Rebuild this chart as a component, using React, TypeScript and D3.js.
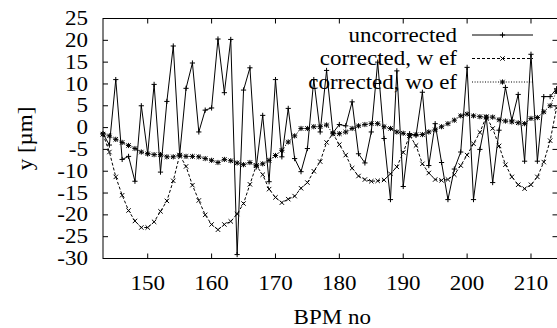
import React from 'react';
import * as d3 from 'd3';

// BPM numbers run 143..214, one value per BPM
const bpmStart = 143;

const uncorrected = [
  -1.4, -4.0, 11.0, -7.3, -6.6, -12.3, 5.0, -6.0, 9.9, -10.2,
  6.0, 18.7, -6.3, 9.0, 14.8, -1.0, 4.0, 4.5, 20.3, 8.0,
  20.2, -29.1, 8.6, 13.7, -9.0, 2.8, -12.4, 11.0, -6.7, 4.4,
  -7.1, -10.1, -4.8, 11.0, -1.0, 13.1, -1.2, 0.7, 0.4, 5.9,
  -6.0, -8.1, -1.0, 15.0, -2.5, -16.5, 13.0, -13.5, -1.4, -1.8,
  8.1, -8.7, 0.9, -8.0, -16.5, -9.5, -5.6, 13.8, -16.5, -5.0,
  2.4, -12.6, -0.6, 9.2, 1.7, 7.6, -7.7, 16.8, -7.7, 7.1,
  7.1, 8.9,
];

const correctedWithEf = [
  -1.5, -5.6, -11.3, -15.5, -19.0, -21.4, -22.9, -22.9, -21.6, -19.2,
  -16.8, -12.2, -6.3, -8.9, -13.2, -16.7, -20.0, -22.2, -23.4, -22.2,
  -21.5, -19.8, -17.4, -13.0, -8.7, -10.8, -14.1, -16.0, -17.2, -16.4,
  -15.7, -13.9, -12.6, -10.0, -7.8, -3.4, -1.4, -3.9, -6.3, -9.3,
  -11.1, -11.9, -12.3, -12.2, -12.0, -10.6, -9.0, -5.7, -1.8, -4.1,
  -8.3, -10.4, -11.9, -12.1, -11.9, -10.8, -8.7, -6.3, -3.7, -1.1,
  2.5, -0.2, -4.2, -8.5, -11.3, -13.1, -14.0, -13.1, -11.3, -7.9,
  -3.0, 4.5,
];

const correctedWithoutEf = [
  -1.5, -1.9, -2.7, -3.4, -4.1, -4.8, -5.6, -6.0, -6.2, -6.2,
  -6.7, -6.7, -6.3, -6.6, -6.6, -6.7, -7.1, -7.5, -8.0, -7.3,
  -7.6, -8.1, -8.5, -8.0, -8.7, -8.3, -7.5, -6.4, -5.2, -3.3,
  -1.9, -0.2, -0.2, 0.2, 0.2, 0.6, -1.4, -1.4, -1.0, -0.2,
  0.4, 0.7, 0.9, 0.9, 0.2, -0.2, -1.0, -1.3, -1.8, -1.6,
  -1.6, -1.0, -0.5, 0.2, 0.9, 1.7, 2.7, 3.1, 2.7, 2.5,
  2.4, 2.4, 1.8, 1.5, 1.3, 1.1, 0.9, 2.1, 2.3, 3.6,
  5.0, 8.3,
];

const xTicks = [150, 160, 170, 180, 190, 200, 210];
const yTicks = [-30, -25, -20, -15, -10, -5, 0, 5, 10, 15, 20, 25];
const seriesNames = ['uncorrected', 'corrected, w ef', 'corrected, wo ef'];

type MarkerKind = 'plus' | 'cross' | 'star';

const markerPath = (kind: MarkerKind, cx: number, cy: number) => {
  const p = 2.6;
  const c = 2.2;
  const plus = `M${cx - p},${cy}h${2 * p}M${cx},${cy - p}v${2 * p}`;
  const cross = `M${cx - c},${cy - c}l${2 * c},${2 * c}M${cx - c},${cy + c}l${2 * c},${-2 * c}`;
  if (kind === 'plus') return plus;
  if (kind === 'cross') return cross;
  return plus + cross;
};

// the original text is a bit wider than plain Times, so stretch it sideways
const stretch = 1.15;

const Label: React.FC<{ x: number; y: number; anchor?: string; rotate?: number; children: React.ReactNode }> = ({
  x, y, anchor = 'start', rotate = 0, children,
}) => (
  <g transform={`translate(${x},${y}) rotate(${rotate}) scale(${stretch},1)`}>
    <text x={0} y={0} dy="0.33em" textAnchor={anchor}>{children}</text>
  </g>
);

const App: React.FC = () => {
  const width = 557;
  const height = 328;
  const margin = { top: 18.5, right: 0, bottom: 69.5, left: 103 };
  const font = '"Liberation Serif", "Times New Roman", serif';

  const x = d3.scaleLinear().domain([143, 214.15]).range([margin.left, width + 0.5]);
  const y = d3.scaleLinear().domain([-30, 25]).range([height - margin.bottom, margin.top]);

  const series = [
    { name: seriesNames[0], values: uncorrected, dash: undefined, marker: 'plus' as MarkerKind },
    { name: seriesNames[1], values: correctedWithEf, dash: '3,2', marker: 'cross' as MarkerKind },
    { name: seriesNames[2], values: correctedWithoutEf, dash: '1,1.6', marker: 'star' as MarkerKind },
  ];

  const line = d3.line<number>()
    .x((_, i) => x(bpmStart + i))
    .y(d => y(d));

  const x0 = x.range()[0];
  const x1 = x.range()[1];
  const y0 = y.range()[0];
  const y1 = y.range()[1];
  const tick = 5;

  // legend geometry
  const legendTextX = 457;
  const legendLine = [472, 533];
  const legendRowY = [35, 58.5, 82];

  return (
    <svg width={width} height={height} style={{ position: 'absolute', left: 0, top: 0, background: '#fff' }}>
      <g fontFamily={font} fontSize={20} fill="#000">
        {/* plot data */}
        {series.map(s => (
          <g key={s.name}>
            <path d={line(s.values) || ''} fill="none" stroke="#000" strokeWidth={1} strokeDasharray={s.dash} />
            <path
              d={s.values.map((v, i) => markerPath(s.marker, x(bpmStart + i), y(v))).join('')}
              fill="none"
              stroke="#000"
              strokeWidth={1}
            />
          </g>
        ))}

        {/* border */}
        <rect x={x0} y={y1} width={x1 - x0} height={y0 - y1} fill="none" stroke="#000" strokeWidth={1} />

        {/* x ticks */}
        {xTicks.map(t => (
          <g key={`xt${t}`}>
            <line x1={x(t)} x2={x(t)} y1={y0} y2={y0 - tick} stroke="#000" />
            <line x1={x(t)} x2={x(t)} y1={y1} y2={y1 + tick} stroke="#000" />
            <Label x={x(t)} y={283} anchor="middle">{t}</Label>
          </g>
        ))}

        {/* y ticks */}
        {yTicks.map(t => (
          <g key={`yt${t}`}>
            <line x1={x0} x2={x0 + tick} y1={y(t)} y2={y(t)} stroke="#000" />
            <line x1={x1} x2={x1 - tick} y1={y(t)} y2={y(t)} stroke="#000" />
            <Label x={88} y={y(t)} anchor="end">{t}</Label>
          </g>
        ))}

        {/* axis labels */}
        <Label x={(x0 + x1) / 2 + 2} y={317} anchor="middle">BPM no</Label>
        <Label x={25} y={(y0 + y1) / 2} anchor="middle" rotate={-90}>y [µm]</Label>

        {/* legend */}
        {series.map((s, i) => (
          <g key={`lg${s.name}`}>
            <Label x={legendTextX} y={legendRowY[i]} anchor="end">{s.name}</Label>
            <line
              x1={legendLine[0]}
              x2={legendLine[1]}
              y1={legendRowY[i]}
              y2={legendRowY[i]}
              stroke="#000"
              strokeDasharray={s.dash}
            />
            <path
              d={markerPath(s.marker, (legendLine[0] + legendLine[1]) / 2, legendRowY[i])}
              fill="none"
              stroke="#000"
            />
          </g>
        ))}
      </g>
    </svg>
  );
};

export default App;
